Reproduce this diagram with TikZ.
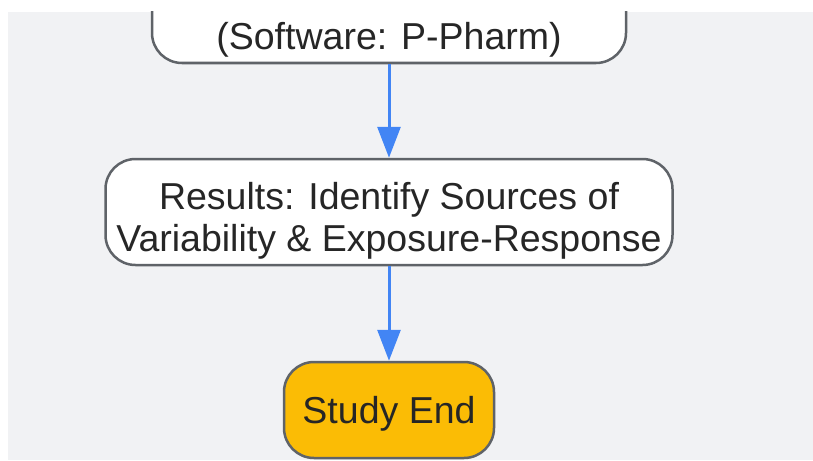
\documentclass[tikz,border=0pt]{standalone}
\usepackage{fontspec}
\setmainfont{Liberation Sans}
\usetikzlibrary{arrows.meta}

\definecolor{bggrey}{HTML}{F1F2F4}
\definecolor{boxline}{HTML}{5F6368}
\definecolor{textcol}{HTML}{262626}
\definecolor{flowblue}{HTML}{4285F4}
\definecolor{endyellow}{HTML}{FBBC05}

\tikzset{
    flowbox/.style={draw=boxline, line width=2.5pt, rounded corners=30pt,
        fill=white, text=textcol, align=center, inner sep=0pt,
        font=\fontsize{37.5}{42}\selectfont},
    endbox/.style={flowbox, fill=endyellow},
    flowarrow/.style={draw=flowblue, line width=3pt,
        -{Triangle[width=23pt,length=31pt]}},
}

\begin{document}
\begin{tikzpicture}[x=1pt,y=-1pt]
    \useasboundingbox (0,0) rectangle (813,460);
    \fill[bggrey] (8,12) rectangle (813,460);

    \begin{scope}
        \clip (8,12) rectangle (813,460);
        \node[flowbox, anchor=south, minimum width=474pt,
              text height=120pt, text depth=7pt, inner ysep=6pt]
            (model) at (389,64.25) {(Software: P-Pharm)};
    \end{scope}

    \node[flowbox, anchor=north, minimum width=567pt,
          text height=92pt, text depth=14pt]
        (results) at (389,157.75)
        {Results: Identify Sources of\\Variability \& Exposure-Response};

    \node[endbox, anchor=base, minimum width=210pt,
          text height=61pt, text depth=35pt]
        (studyend) at (389,423) {Study End};

    \draw[flowarrow] (model) -- (results);
    \draw[flowarrow] (results) -- (studyend);
\end{tikzpicture}
\end{document}
